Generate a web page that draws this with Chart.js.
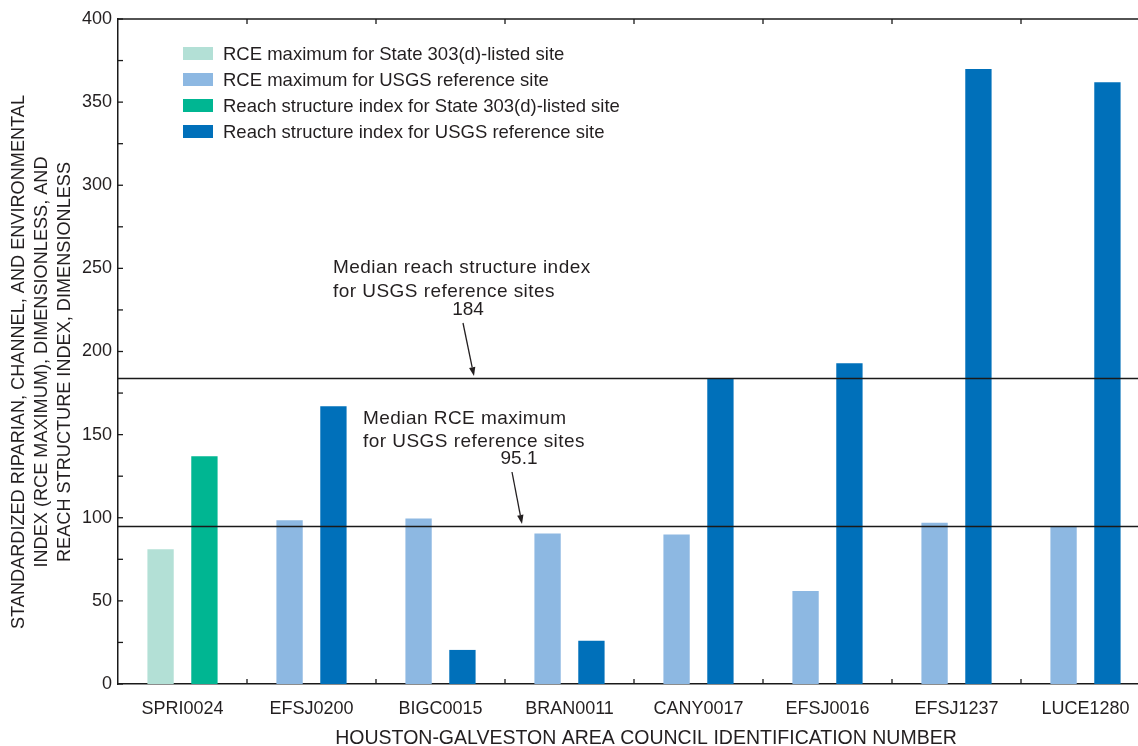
<!DOCTYPE html>
<html>
<head>
<meta charset="utf-8">
<script src="https://cdn.jsdelivr.net/npm/chart.js@4.4.1/dist/chart.umd.min.js"></script>
<style>
  html, body { margin: 0; padding: 0; background: #fff; overflow: hidden; }
  #wrap { position: relative; width: 1152px; height: 746px; }
</style>
</head>
<body>
<div id="wrap"><canvas id="c" width="1152" height="746"></canvas></div>
<script>
// Site identifiers (Houston-Galveston Area Council)
const sites = ['SPRI0024', 'EFSJ0200', 'BIGC0015', 'BRAN0011', 'CANY0017', 'EFSJ0016', 'EFSJ1237', 'LUCE1280'];

// RCE maximum and reach structure index, split by site type
const rceState      = [81, null, null, null, null, null, null, null];
const rceUsgs       = [null, 98.5, 99.5, 90.5, 90, 56, 97, 94.5];
const reachState    = [137, null, null, null, null, null, null, null];
const reachUsgs     = [null, 167, 20.5, 26, 184, 193, 370, 362];

// Medians for USGS reference sites
const medianReach = 184;
const medianRce = 95.1;

const yTicks = [0, 50, 100, 150, 200, 250, 300, 350, 400];

const TEXT = '#231f20';
const FONT = '"Liberation Sans", Arial, Helvetica, sans-serif';

const colors = {
  rceState: '#b3e0d6',
  rceUsgs: '#8db8e2',
  reachState: '#00b692',
  reachUsgs: '#0070ba'
};

function arrow(ctx, x0, y0, x1, y1) {
  ctx.save();
  ctx.strokeStyle = TEXT;
  ctx.fillStyle = TEXT;
  ctx.lineWidth = 1.3;
  const ang = Math.atan2(y1 - y0, x1 - x0);
  const hl = 9, hw = 3.2;
  const bx = x1 - hl * Math.cos(ang), by = y1 - hl * Math.sin(ang);
  ctx.beginPath();
  ctx.moveTo(x0, y0);
  ctx.lineTo(bx, by);
  ctx.stroke();
  ctx.beginPath();
  ctx.moveTo(x1, y1);
  ctx.lineTo(bx + hw * Math.sin(ang), by - hw * Math.cos(ang));
  ctx.lineTo(bx - hw * Math.sin(ang), by + hw * Math.cos(ang));
  ctx.closePath();
  ctx.fill();
  ctx.restore();
}

const decorations = {
  id: 'decorations',
  afterDatasetsDraw(chart) {
    const { ctx, chartArea: a, scales: { x, y } } = chart;
    ctx.save();

    // Median reference lines
    ctx.strokeStyle = '#1a1a1a';
    ctx.lineWidth = 1.5;
    [medianReach, medianRce].forEach(v => {
      const py = Math.round(y.getPixelForValue(v)) + 0.5;
      ctx.beginPath();
      ctx.moveTo(a.left, py);
      ctx.lineTo(a.right, py);
      ctx.stroke();
    });

    // Top frame line
    ctx.beginPath();
    ctx.moveTo(a.left, a.top);
    ctx.lineTo(a.right, a.top);
    ctx.stroke();

    // Inward tick marks
    ctx.lineWidth = 1.3;
    for (let v = 0; v <= 400; v += 25) {
      const py = y.getPixelForValue(v);
      ctx.beginPath();
      ctx.moveTo(a.left, py);
      ctx.lineTo(a.left + 5, py);
      ctx.stroke();
    }
    for (let i = 1; i < sites.length; i++) {
      const px = (x.getPixelForValue(i - 1) + x.getPixelForValue(i)) / 2;
      ctx.beginPath();
      ctx.moveTo(px, a.bottom);
      ctx.lineTo(px, a.bottom - 5);
      ctx.moveTo(px, a.top);
      ctx.lineTo(px, a.top + 5);
      ctx.stroke();
    }

    // Legend
    ctx.font = '18.5px ' + FONT;
    ctx.textBaseline = 'middle';
    ctx.textAlign = 'left';
    const legendY = [53.5, 79.5, 105.5, 131.5];
    chart.data.datasets.forEach((ds, i) => {
      ctx.fillStyle = ds.backgroundColor;
      ctx.fillRect(183, legendY[i] - 6.5, 30, 13);
      ctx.fillStyle = TEXT;
      ctx.fillText(ds.label, 223, legendY[i] + 1);
    });

    // Median annotations
    ctx.font = '19px ' + FONT;
    ctx.letterSpacing = '0.45px';
    ctx.textBaseline = 'alphabetic';
    ctx.fillText('Median reach structure index', 333, 273);
    ctx.fillText('for USGS reference sites', 333, 297);
    ctx.fillText('Median RCE maximum', 363, 424);
    ctx.fillText('for USGS reference sites', 363, 447);
    ctx.letterSpacing = '0px';
    ctx.textAlign = 'center';
    ctx.fillText(String(medianReach), 468, 315);
    ctx.fillText(String(medianRce), 519, 464);
    arrow(ctx, 463, 323, 474, y.getPixelForValue(medianReach) - 2);
    arrow(ctx, 512, 472, 522, y.getPixelForValue(medianRce) - 2);

    // Axis titles
    ctx.fillStyle = TEXT;
    ctx.textAlign = 'center';
    ctx.textBaseline = 'alphabetic';
    ctx.font = '19.5px ' + FONT;
    ctx.fillText('HOUSTON-GALVESTON AREA COUNCIL IDENTIFICATION NUMBER', 646, 744);

    const yLines = [
      'STANDARDIZED RIPARIAN, CHANNEL, AND ENVIRONMENTAL',
      'INDEX (RCE MAXIMUM), DIMENSIONLESS, AND',
      'REACH STRUCTURE INDEX, DIMENSIONLESS'
    ];
    const yCols = [18.5, 42, 64.5];
    ctx.font = '19px ' + FONT;
    const sx = 534 / ctx.measureText(yLines[0]).width;
    ctx.textBaseline = 'middle';
    yLines.forEach((t, i) => {
      ctx.save();
      ctx.translate(yCols[i], 362);
      ctx.rotate(-Math.PI / 2);
      ctx.scale(sx, 1);
      ctx.fillText(t, 0, 0);
      ctx.restore();
    });

    ctx.restore();
  }
};

new Chart(document.getElementById('c'), {
  type: 'bar',
  data: {
    labels: sites,
    datasets: [
      { label: 'RCE maximum for State 303(d)-listed site', data: rceState, backgroundColor: colors.rceState },
      { label: 'RCE maximum for USGS reference site', data: rceUsgs, backgroundColor: colors.rceUsgs },
      { label: 'Reach structure index for State 303(d)-listed site', data: reachState, backgroundColor: colors.reachState },
      { label: 'Reach structure index for USGS reference site', data: reachUsgs, backgroundColor: colors.reachUsgs }
    ]
  },
  options: {
    responsive: false,
    animation: false,
    devicePixelRatio: 1,
    skipNull: true,
    categoryPercentage: 0.68,
    barPercentage: 0.6,
    layout: { padding: { top: 19, right: 2, left: 0, bottom: 0 } },
    plugins: {
      legend: { display: false },
      tooltip: { enabled: false }
    },
    scales: {
      x: {
        offset: true,
        grid: { display: false, drawTicks: false },
        border: { display: true, color: '#1a1a1a', width: 1.5 },
        ticks: { font: { family: FONT, size: 18 }, color: TEXT, padding: 14, maxRotation: 0, autoSkip: false },
        afterFit(s) { s.height = 62; }
      },
      y: {
        min: 0,
        max: 400,
        afterBuildTicks(s) { s.ticks = yTicks.map(v => ({ value: v })); },
        grid: { display: false, drawTicks: false },
        border: { display: true, color: '#1a1a1a', width: 1.5 },
        ticks: { font: { family: FONT, size: 18 }, color: TEXT, padding: 6 },
        afterFit(s) { s.width = 118; }
      }
    }
  },
  plugins: [decorations]
});
</script>
</body>
</html>
